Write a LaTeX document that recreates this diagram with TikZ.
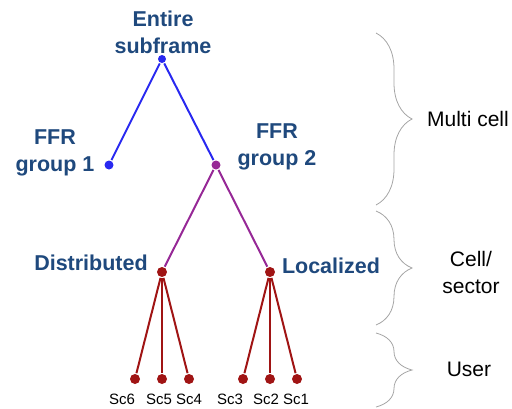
\documentclass[tikz,border=0pt]{standalone}
\usepackage{fontspec}
\setmainfont{Liberation Sans}
\usetikzlibrary{positioning,decorations.pathreplacing}
\definecolor{lblue}{RGB}{40,40,240}
\definecolor{lpurple}{RGB}{150,40,150}
\definecolor{lred}{RGB}{160,20,20}
\definecolor{tblue}{RGB}{31,73,125}
\definecolor{bgray}{RGB}{165,165,165}
\begin{document}
\begin{tikzpicture}[x=1pt, y=-1pt, line width=2pt,
    dot/.style = {circle, fill, inner sep=0pt, minimum size=9pt},
    lab/.style = {inner sep=0pt, align=center, text=tblue, font=\bfseries\fontsize{21.5}{27}\selectfont},
    lvl/.style = {inner sep=0pt, align=center, font=\fontsize{21}{27}\selectfont},
    sc/.style = {inner sep=0pt, font=\fontsize{15}{18}\selectfont},
    brc/.style = {draw=bgray, line width=0.8pt, decorate, decoration={brace, amplitude=36pt}}]
    \useasboundingbox (0,0) rectangle (512,408);
    \node[dot, lblue, minimum size=8pt] (1) at (162,59) {};
    \node[dot, lblue] (2) at (109,165) {};
    \node[dot, lpurple] (3) at (216,165) {};
    \node[dot, lred, minimum size=10pt] (4) at (162,272) {};
    \node[dot, lred, minimum size=10pt] (5) at (270,272) {};
    \node[dot, lred, minimum size=10pt] (6) at (135,379) {};
    \node[dot, lred, minimum size=10pt] (7) at (162,379) {};
    \node[dot, lred, minimum size=10pt] (8) at (189,379) {};
    \node[dot, lred, minimum size=10pt] (9) at (243,379) {};
    \node[dot, lred, minimum size=10pt] (10) at (270,379) {};
    \node[dot, lred, minimum size=10pt] (11) at (297,379) {};
    %labels
    \node[lab] (l1) at (163,32) {Entire\\subframe};
    \node[lab] (l2) at (55,153) {FFR\\group 1};
    \node[lab] (l3) at (277,147) {FFR\\group 2};
    \node[lab] (l4) at (91,263) {Distributed};
    \node[lab] (l5) at (331,266) {Localized};
    \node[sc] (s6) at (122,399) {Sc6};
    \node[sc] (s5) at (159,399) {Sc5};
    \node[sc] (s4) at (189,399) {Sc4};
    \node[sc] (s3) at (230,399) {Sc3};
    \node[sc] (s2) at (266,399) {Sc2};
    \node[sc] (s1) at (296,399) {Sc1};
    \draw[lblue] (1) -- (2);
    \draw[lblue] (1) -- (3);
    \draw[lpurple] (3) -- (4);
    \draw[lpurple] (3) -- (5);
    \foreach \i in {6,7,8} \draw[lred] (4) -- (\i);
    \foreach \i in {9,10,11} \draw[lred] (5) -- (\i);
    %levels
    \coordinate (b1) at (376,33);
    \coordinate (b2) at (376,205);
    \coordinate (b3) at (376,211);
    \coordinate (b4) at (376,325);
    \coordinate (b5) at (376,333);
    \coordinate (b6) at (376,407);
    \draw[brc] (b1) -- (b2);
    \draw[brc] (b3) -- (b4);
    \draw[brc] (b5) -- (b6);
    \node[lvl] (m1) at (468,119) {Multi cell};
    \node[lvl] (m2) at (471,272) {Cell/\\sector};
    \node[lvl] (m3) at (469,369) {User};
\end{tikzpicture}
\end{document}
